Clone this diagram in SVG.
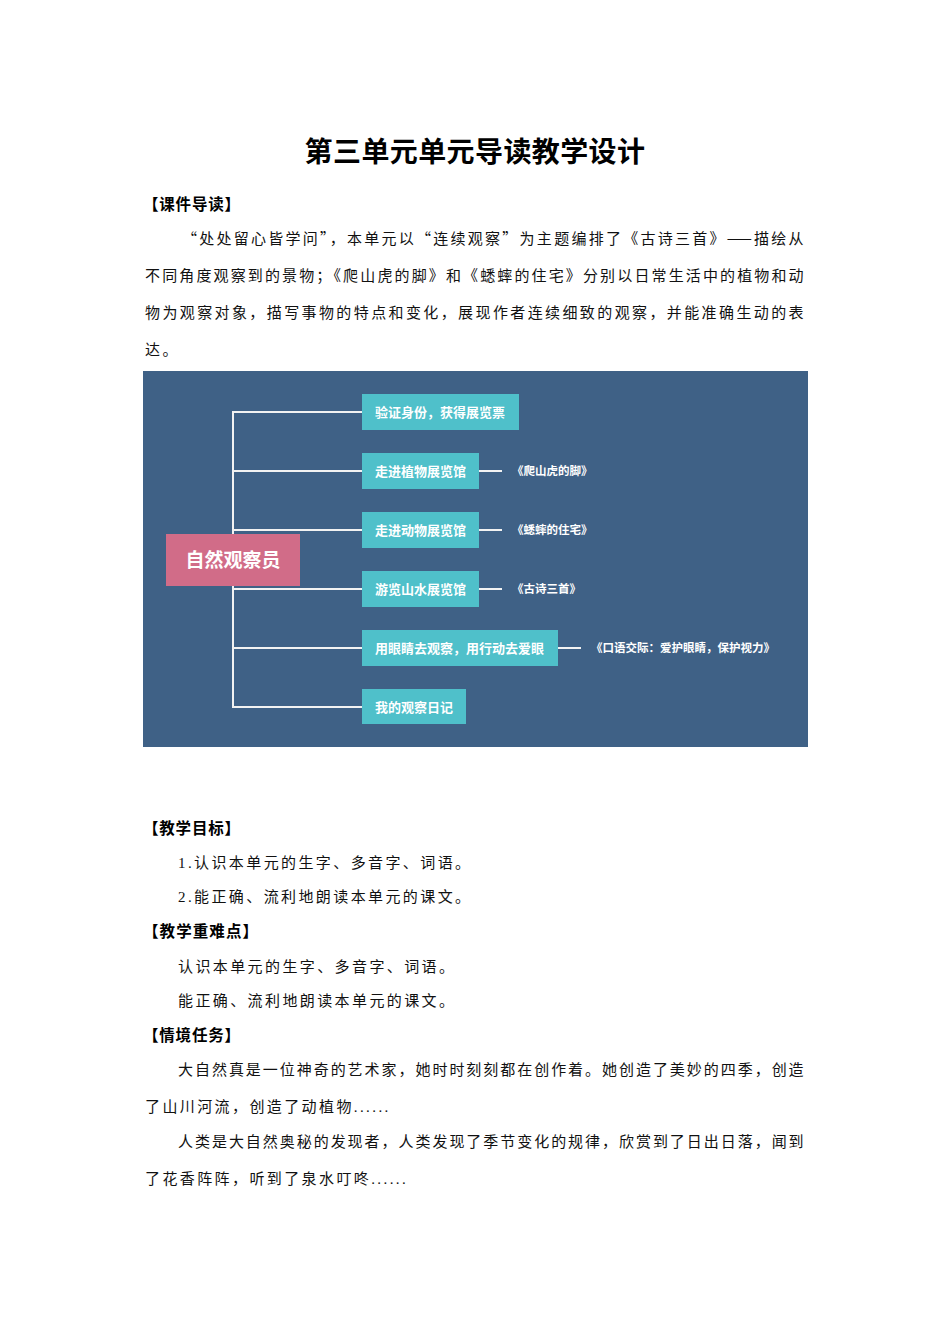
<svg xmlns="http://www.w3.org/2000/svg" width="950" height="1344" viewBox="0 0 950 1344">
<style>
.title{font-family:"Noto Sans CJK SC",sans-serif;font-size:28px;font-weight:bold;fill:#000;letter-spacing:0.4px}
.h{font-family:"Noto Sans CJK SC",sans-serif;font-size:15.5px;font-weight:bold;fill:#000}
.p{font-family:"Noto Sans CJK SC",sans-serif;font-size:15px;fill:#111;letter-spacing:2.4px}
.lat{font-family:"Liberation Serif",serif}
.box{fill:#4FC0CA}
.bt{font-family:"Noto Sans CJK SC",sans-serif;font-size:13px;font-weight:bold;fill:#fff}
.lb{font-family:"Noto Sans CJK SC",sans-serif;font-size:11.5px;font-weight:bold;fill:#fff}
.ln{stroke:#F2F2F2;stroke-width:2;fill:none}
</style>
<rect width="950" height="1344" fill="#fff"/>
<text class="title" x="475" y="162" text-anchor="middle">第三单元单元导读教学设计</text>
<text class="h" x="143" y="210" textLength="97" lengthAdjust="spacing">【课件导读】</text>
<text class="p" x="182" y="244" textLength="624" lengthAdjust="spacing">“处处留心皆学问”，本单元以“连续观察”为主题编排了《古诗三首》——描绘从</text>
<text class="p" x="145" y="281" textLength="661" lengthAdjust="spacing">不同角度观察到的景物；《爬山虎的脚》和《蟋蟀的住宅》分别以日常生活中的植物和动</text>
<text class="p" x="145" y="318" textLength="661" lengthAdjust="spacing">物为观察对象，描写事物的特点和变化，展现作者连续细致的观察，并能准确生动的表</text>
<text class="p" x="145" y="355">达。</text>

<rect id="panel" x="143" y="371" width="665" height="376" fill="#3F6186"/>
<g id="connectors">
<path class="ln" d="M362 412H233V707H362M233 471H362M233 530H362M233 589H362M233 648H362"/>
<path class="ln" d="M479 471H502M479 530H502M479 589H502M558 648H581"/>
</g>
<g id="root"><rect x="166" y="534" width="134" height="52" fill="#D16C88"/><text x="233" y="567" text-anchor="middle" font-family="Noto Sans CJK SC,sans-serif" font-size="19" font-weight="bold" fill="#fff">自然观察员</text></g>
<g id="n1"><rect class="box" x="362" y="394" width="157" height="36"/><text class="bt" x="375" y="417">验证身份，获得展览票</text></g>
<g id="n2"><rect class="box" x="362" y="453" width="117" height="36"/><text class="bt" x="375" y="476">走进植物展览馆</text></g>
<g id="n3"><rect class="box" x="362" y="512" width="117" height="36"/><text class="bt" x="375" y="535">走进动物展览馆</text></g>
<g id="n4"><rect class="box" x="362" y="571" width="117" height="36"/><text class="bt" x="375" y="594">游览山水展览馆</text></g>
<g id="n5"><rect class="box" x="362" y="630" width="196" height="36"/><text class="bt" x="375" y="653">用眼睛去观察，用行动去爱眼</text></g>
<g id="n6"><rect class="box" x="362" y="689" width="104" height="35"/><text class="bt" x="375" y="712">我的观察日记</text></g>
<g id="l2"><text class="lb" x="512" y="475">《爬山虎的脚》</text></g>
<g id="l3"><text class="lb" x="512" y="534">《蟋蟀的住宅》</text></g>
<g id="l4"><text class="lb" x="512" y="593">《古诗三首》</text></g>
<g id="l5"><text class="lb" x="591" y="652">《口语交际：爱护眼睛，保护视力》</text></g>

<text class="h" x="143" y="834" textLength="97" lengthAdjust="spacing">【教学目标】</text>
<text class="p" x="178" y="868"><tspan class="lat">1.</tspan>认识本单元的生字、多音字、词语。</text>
<text class="p" x="178" y="902"><tspan class="lat">2.</tspan>能正确、流利地朗读本单元的课文。</text>
<text class="h" x="143" y="937" textLength="115" lengthAdjust="spacing">【教学重难点】</text>
<text class="p" x="178" y="972">认识本单元的生字、多音字、词语。</text>
<text class="p" x="178" y="1006">能正确、流利地朗读本单元的课文。</text>
<text class="h" x="143" y="1041" textLength="97" lengthAdjust="spacing">【情境任务】</text>
<text class="p" x="178" y="1075" textLength="628" lengthAdjust="spacing">大自然真是一位神奇的艺术家，她时时刻刻都在创作着。她创造了美妙的四季，创造</text>
<text class="p" x="145" y="1112">了山川河流，创造了动植物<tspan class="lat">......</tspan></text>
<text class="p" x="178" y="1147" textLength="628" lengthAdjust="spacing">人类是大自然奥秘的发现者，人类发现了季节变化的规律，欣赏到了日出日落，闻到</text>
<text class="p" x="145" y="1184">了花香阵阵，听到了泉水叮咚<tspan class="lat">......</tspan></text>
</svg>
